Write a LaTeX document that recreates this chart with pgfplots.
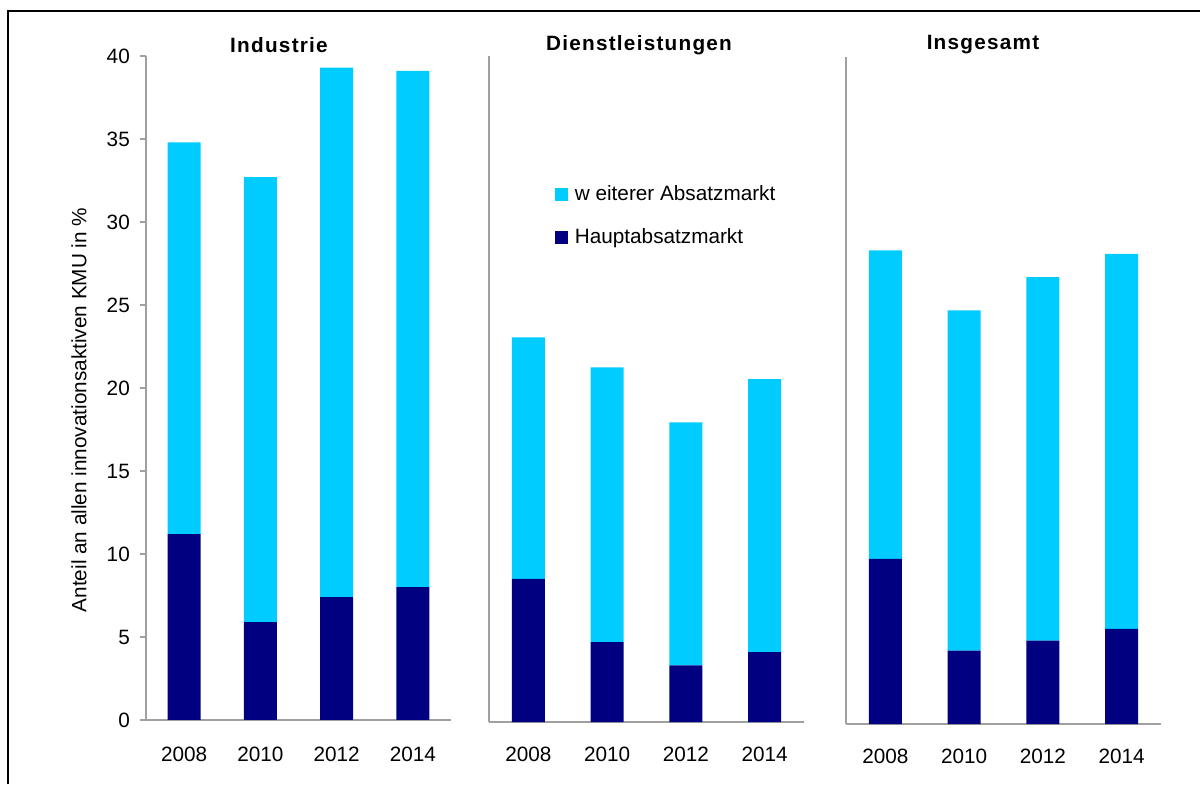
\documentclass[border=0pt]{standalone}
\usepackage{fontspec}
\setmainfont{Liberation Sans}
\usepackage{pgfplots}
\pgfplotsset{compat=1.18}

\definecolor{hellblau}{HTML}{00CCFF}
\definecolor{dunkelblau}{HTML}{000080}
\definecolor{achse}{HTML}{A0A0A0}

\pgfplotsset{
  panel/.style={
    scale only axis,
    ybar stacked,
    anchor=south west,
    ymin=0, ymax=40,
    xmin=-0.5, xmax=3.5,
    bar width=0.66cm,
    axis x line=bottom,
    axis y line=left,
    axis line style={achse, line width=1.1pt, -},
    xtick={0,1,2,3},
    xticklabels={2008,2010,2012,2014},
    xtick style={draw=none},
    xticklabel style={yshift=-0.3cm},
    /pgf/number format/assume math mode=true,
  },
  dunkel/.style={fill=dunkelblau, draw=none},
  hell/.style={fill=hellblau, draw=none},
}

\newcommand{\titel}{\fontsize{11.8}{14}\selectfont\bfseries\addfontfeature{LetterSpace=6}}

\begin{document}
\begin{tikzpicture}[font=\fontsize{11.8}{14}\selectfont]
\useasboundingbox (0,0) rectangle (24,15.68);
\draw[line width=1.2pt] (0.16,0) -- (0.16,15.46) -- (24,15.46);

% Industrie
\begin{axis}[panel,
  at={(2.92cm,1.28cm)}, width=6.10cm, height=13.28cm,
  ytick={0,5,...,40},
  tick align=outside,
  major tick length=0.12cm,
  ytick style={achse, line width=1.1pt},
  yticklabel style={xshift=-0.08cm},
  ylabel={Anteil an allen innovationsaktiven KMU in \%},
  ylabel style={at={(axis description cs:-0.22,0.467)}, anchor=center},
]
\addplot[dunkel] coordinates {(0,11.2) (1,5.9) (2,7.4) (3,8.0)};
\addplot[hell]   coordinates {(0,23.6) (1,26.8) (2,31.9) (3,31.1)};
\end{axis}

% Dienstleistungen
\begin{axis}[panel,
  at={(9.78cm,1.24cm)}, width=6.30cm, height=13.32cm,
  ytick=\empty,
  reverse legend,
  legend cell align=left,
  legend style={at={(rel axis cs:0.2095,0.811)}, anchor=north west,
    draw=none, fill=none, inner sep=0pt, row sep=0.36cm},
  legend image code/.code={\fill[#1] (0cm,-0.13cm) rectangle (0.26cm,0.13cm); \path (0.32cm,0cm);},
]
\addplot[dunkel] coordinates {(0,8.6) (1,4.8) (2,3.4) (3,4.2)};
\addplot[hell]   coordinates {(0,14.5) (1,16.5) (2,14.6) (3,16.4)};
\legend{Hauptabsatzmarkt, w eiterer Absatzmarkt}
\end{axis}

% Insgesamt
\begin{axis}[panel,
  at={(16.92cm,1.20cm)}, width=6.30cm, height=13.34cm,
  ytick=\empty,
]
\addplot[dunkel] coordinates {(0,9.9) (1,4.4) (2,5.0) (3,5.7)};
\addplot[hell]   coordinates {(0,18.5) (1,20.4) (2,21.8) (3,22.5)};
\end{axis}

\node[font=\titel] at (5.58,14.78) {Industrie};
\node[font=\titel] at (12.78,14.78) {Dienstleistungen};
\node[font=\titel] at (19.66,14.78) {Insgesamt};
\end{tikzpicture}
\end{document}
